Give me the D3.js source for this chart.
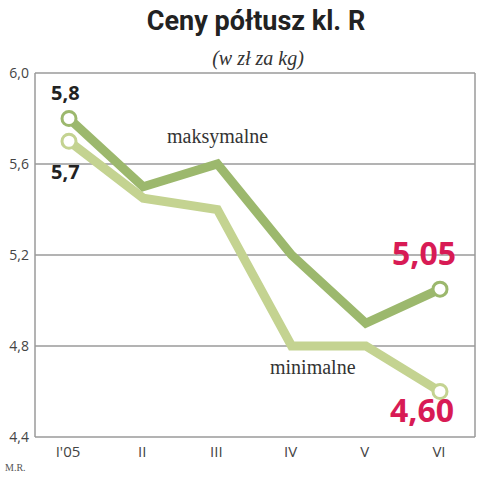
<!DOCTYPE html>
<html><head><meta charset="utf-8">
<script src="https://cdn.jsdelivr.net/npm/d3@7"></script>
<style>body{margin:0;background:#fff}svg{display:block}</style>
</head><body>
<script>
const categories = ["I'05","II","III","IV","V","VI"];
const maxValues = [5.8,5.5,5.6,5.2,4.9,5.05];
const minValues = [5.7,5.45,5.4,4.8,4.8,4.6];
const yTicks = [4.4,4.8,5.2,5.6,6.0];

const W=483,H=480;
const svg=d3.select("body").append("svg").attr("width",W).attr("height",H);
const pL=35,pR=475,pT=73,pB=437;
const x=d3.scalePoint().domain(categories).range([69,440]);
const y=d3.scaleLinear().domain([4.4,6.0]).range([pB,pT]);
const fmt=v=>d3.format(".1f")(v).replace(".",",");

svg.append("text").attr("x",256).attr("y",30).attr("text-anchor","middle")
  .attr("font-family","Roboto, 'Liberation Sans Narrow', sans-serif").attr("font-weight","bold")
  .attr("font-size",27).attr("fill","#222")
  .text("Ceny półtusz kl. R");
svg.append("text").attr("x",258).attr("y",65).attr("text-anchor","middle")
  .attr("font-family","'Liberation Serif', serif").attr("font-style","italic")
  .attr("font-size",20).attr("fill","#333").text("(w zł za kg)");

// grid
const g=svg.append("g");
g.selectAll("line.grid").data(yTicks).join("line")
  .attr("x1",pL).attr("x2",pR).attr("y1",d=>y(d)).attr("y2",d=>y(d))
  .attr("stroke","#9a9a9a").attr("stroke-width",1.5);
g.append("line").attr("x1",pL).attr("x2",pL).attr("y1",pT).attr("y2",pB).attr("stroke","#9a9a9a").attr("stroke-width",1.5);
g.append("line").attr("x1",pR).attr("x2",pR).attr("y1",pT).attr("y2",pB).attr("stroke","#9a9a9a").attr("stroke-width",1.5);

// y tick labels
svg.selectAll("text.yt").data(yTicks).join("text")
  .attr("x",29).attr("y",d=>y(d)+5).attr("text-anchor","end")
  .attr("font-family","'Open Sans', sans-serif").attr("font-size",14).attr("fill","#444")
  .text(d=>fmt(d));
// x labels
svg.selectAll("text.xt").data(categories).join("text")
  .attr("x",d=>x(d)-1).attr("y",457).attr("text-anchor","middle")
  .attr("font-family","'Open Sans', sans-serif").attr("font-size",15).attr("fill","#444")
  .text(d=>d);
svg.append("text").attr("x",5).attr("y",471).attr("font-family","'Liberation Serif', serif")
  .attr("font-size",10).attr("fill","#555").text("M.R.");

const line=d3.line().x((d,i)=>x(categories[i])).y(d=>y(d));
const series=[{vals:minValues,color:"#c4d391"},{vals:maxValues,color:"#9cb86d"}];
series.forEach(s=>{
  svg.append("path").attr("d",line(s.vals)).attr("fill","none").attr("stroke",s.color)
    .attr("stroke-width",9).attr("stroke-linejoin","miter");
});
series.forEach(s=>{
  const ends=[0,s.vals.length-1];
  svg.selectAll(null).data(ends).join("circle")
    .attr("cx",i=>x(categories[i])).attr("cy",i=>y(s.vals[i])).attr("r",7)
    .attr("fill","#fff").attr("stroke",s.color).attr("stroke-width",3);
});

const lab=(t,xx,yy,size,color,weight,family)=>svg.append("text").attr("x",xx).attr("y",yy)
  .attr("font-size",size).attr("fill",color).attr("font-weight",weight)
  .attr("font-family",family).text(t);
lab(fmt(maxValues[0]),51,100,20,"#222","bold","'Open Sans', sans-serif");
lab(fmt(minValues[0]),51,179,20,"#222","bold","'Open Sans', sans-serif");
lab("maksymalne",167,143,20,"#333","normal","'Liberation Serif', serif");
lab("minimalne",270,374,20,"#333","normal","'Liberation Serif', serif");
lab("5,05",392,265,32,"#d81b55","bold","'Open Sans', sans-serif");
lab("4,60",390,422,32,"#d81b55","bold","'Open Sans', sans-serif");
</script>
</body></html>
